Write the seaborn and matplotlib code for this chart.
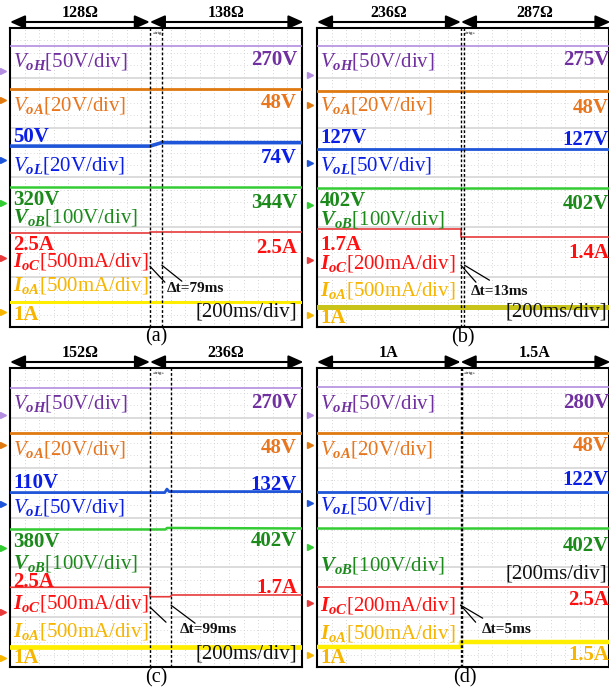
import numpy as np
import matplotlib
matplotlib.use('Agg')
import matplotlib.pyplot as plt
import seaborn as sns
from matplotlib.transforms import blended_transform_factory, offset_copy

W, H = 609, 694
T_END = 2000          # ms  (10 div x 200 ms/div)
N_DIV = 6             # vertical screen divisions

# ---------------- data (screen divisions vs. time in ms) ----------------
header_labels = [('128Ω', '138Ω'), ('236Ω', '287Ω'), ('152Ω', '236Ω'), ('1A', '1.5A')]
panel_tags = ['(a)', '(b)', '(c)', '(d)']
dt_labels = ['Δt=79ms', 'Δt=13ms', 'Δt=99ms', 'Δt=5ms']

a_cursor = [958, 1040]
b_cursor = [986, 1010]
c_cursor = [959, 1103]
d_cursor = [984, 996]

# panel (a)
a_VoH_t, a_VoH_v = [0, 2000], [5.64, 5.64]
a_VoA_t, a_VoA_v = [0, 2000], [4.78, 4.78]
a_VoL_t, a_VoL_v = [0, 958, 1040, 2000], [3.63, 3.63, 3.70, 3.70]
a_VoB_t, a_VoB_v = [0, 2000], [2.81, 2.81]
a_IoC_t, a_IoC_v = [0, 958, 958, 2000], [1.88, 1.88, 1.90, 1.90]
a_IoA_t, a_IoA_v = [0, 2000], [0.50, 0.50]
# panel (b)
b_VoH_t, b_VoH_v = [0, 2000], [5.64, 5.64]
b_VoA_t, b_VoA_v = [0, 2000], [4.74, 4.74]
b_VoL_t, b_VoL_v = [0, 2000], [3.57, 3.57]
b_VoB_t, b_VoB_v = [0, 2000], [2.78, 2.78]
b_IoC_t, b_IoC_v = [0, 986, 986, 2000], [1.96, 1.96, 1.80, 1.80]
b_IoA_t, b_IoA_v = [0, 2000], [0.40, 0.40]
# panel (c)
c_VoH_t, c_VoH_v = [0, 2000], [5.59, 5.59]
c_VoA_t, c_VoA_v = [0, 2000], [4.70, 4.70]
c_VoL_t, c_VoL_v = [0, 1060, 1075, 1090, 2000], [3.50, 3.50, 3.57, 3.52, 3.52]
c_VoB_t, c_VoB_v = [0, 1065, 1075, 2000], [2.76, 2.76, 2.79, 2.78]
c_IoC_t, c_IoC_v = [0, 959, 959, 1095, 1110, 2000], [1.60, 1.60, 1.41, 1.41, 1.445, 1.445]
c_IoA_t, c_IoA_v = [0, 2000], [0.40, 0.40]
# panel (d)
d_VoH_t, d_VoH_v = [0, 2000], [5.61, 5.61]
d_VoA_t, d_VoA_v = [0, 2000], [4.70, 4.70]
d_VoL_t, d_VoL_v = [0, 2000], [3.52, 3.52]
d_VoB_t, d_VoB_v = [0, 2000], [2.78, 2.78]
d_IoC_t, d_IoC_v = [0, 2000], [1.60, 1.60]
d_IoA_t, d_IoA_v = [0, 984, 984, 2000], [0.41, 0.41, 0.50, 0.50]

# channel ground markers (div)
a_marks = [5.14, 4.56, 3.35, 2.49, 1.38, 0.30]
b_marks = [5.06, 4.46, 3.29, 2.45, 1.34, 0.24]
c_marks = [5.06, 4.46, 3.27, 2.39, 1.10, 0.18]
d_marks = [5.06, 4.46, 3.29, 2.41, 1.28, 0.24]

# value labels
a_values = ['270V', '48V', '50V', '74V', '320V', '344V', '2.5A', '2.5A', '1A']
b_values = ['275V', '48V', '127V', '127V', '402V', '402V', '1.7A', '1.4A', '1A']
c_values = ['270V', '48V', '110V', '132V', '380V', '402V', '2.5A', '1.7A', '1A']
d_values = ['280V', '48V', '122V', '402V', '2.5A', '1.5A', '1A']

# ---------------- styling ----------------
sns.set_theme(style='white')
plt.rcParams['font.family'] = ['Liberation Serif', 'DejaVu Serif']
plt.rcParams['mathtext.fontset'] = 'custom'
plt.rcParams['mathtext.rm'] = 'Liberation Serif'
plt.rcParams['mathtext.it'] = 'Liberation Serif:italic'
plt.rcParams['mathtext.bf'] = 'Liberation Serif:bold'
try:
    plt.rcParams['mathtext.bfit'] = 'Liberation Serif:italic:bold'
except KeyError:
    pass

PUR_T, PUR_L = '#7030a0', '#b38de0'
ORA_T, ORA_L = '#e8761e', '#e07a10'
BLU_T, BLU_L = '#0a1ee6', '#1f55d8'
GRN_T, GRN_L = '#1b8a1b', '#33cc33'
RED_T, RED_L = '#ff1010', '#e83a3a'
YEL_T, YEL_L, OLV_L = '#f7b500', '#ffee00', '#c8c41a'
MARK_COLORS = [PUR_L, ORA_L, BLU_L, GRN_L, RED_L, YEL_T]

lab_VoH = r'$\mathit{V}_{\mathbfit{oH}}$[50V/div]'
lab_VoA = r'$\mathit{V}_{\mathbfit{oA}}$[20V/div]'
lab_VoL20 = r'$\mathit{V}_{\mathbfit{oL}}$[20V/div]'
lab_VoL50 = r'$\mathit{V}_{\mathbfit{oL}}$[50V/div]'
lab_VoB = r'$\mathbfit{V}_{\mathbfit{oB}}$[100V/div]'
lab_IoC500 = r'$\mathbfit{I}_{\mathbfit{oC}}$[500mA/div]'
lab_IoC200 = r'$\mathbfit{I}_{\mathbfit{oC}}$[200mA/div]'
lab_IoA = r'$\mathbfit{I}_{\mathbfit{oA}}$[500mA/div]'

FS = 15
fig = plt.figure(figsize=(W / 100, H / 100), dpi=100)


def ptext(px, py, s, **kw):
    kw.setdefault('va', 'baseline')
    kw.setdefault('fontsize', FS)
    return fig.text(px / W, 1 - py / H, s, **kw)


PW, PH = 292, 299


def make_panel(left, top, cursor, traces, marks, headers, iob_color, iob_lw,
               leaders):
    ax = fig.add_axes([left / W, 1 - (top + PH) / H, PW / W, PH / H])
    ax.set_xlim(0, T_END)
    ax.set_ylim(0, N_DIV)
    ax.set_xticks([]); ax.set_yticks([])
    for s in ax.spines.values():
        s.set_color('black'); s.set_linewidth(1.5)
    # graticule
    for x in np.arange(100, T_END, 100):
        ax.axvline(x, color='#c4c4c4', lw=0.6, ls=(0, (1, 3)), zorder=0)
    for y in np.arange(0.25, N_DIV, 0.25):
        if abs(y - round(y)) > 1e-6:
            ax.axhline(y, color='#cfcfcf', lw=0.6, ls=(0, (1, 3)), zorder=0)
    for y in range(1, N_DIV):
        ax.axhline(y, color='#d9d9d9', lw=1.3, zorder=0)
    # traces
    colors = [PUR_L, ORA_L, BLU_L, GRN_L, RED_L, iob_color]
    lws = [1.2, 2.0, traces[2][2], 1.8, 1.2, iob_lw]
    for (t, v, _), c, lw in zip(traces, colors, lws):
        sns.lineplot(x=t, y=v, ax=ax, color=c, lw=lw, estimator=None,
                     sort=False, legend=False, zorder=3)
    # cursors
    for c in cursor:
        ax.axvline(c, color='black', lw=1.0, ls=(0, (2, 1.5)), zorder=4)
    # ground markers
    bt = blended_transform_factory(ax.transAxes, ax.transData)
    mt = offset_copy(bt, fig=fig, x=-7, y=0, units='dots')
    for y, c in zip(marks, MARK_COLORS):
        ax.plot([0], [y], marker='>', ms=5, color=c, transform=mt,
                clip_on=False, lw=0)
    # header arrows
    ht = blended_transform_factory(ax.transData, ax.transAxes)
    yf = 1 + 6 / PH
    ap = dict(arrowstyle='<|-|>,head_length=0.9,head_width=0.4', color='black',
              lw=1.5, shrinkA=0, shrinkB=0, mutation_scale=10)
    ax.annotate('', xy=(0, yf), xytext=(cursor[0], yf), xycoords=ht,
                textcoords=ht, arrowprops=ap, annotation_clip=False)
    ax.annotate('', xy=(cursor[0], yf), xytext=(T_END * 1.005, yf), xycoords=ht,
                textcoords=ht, arrowprops=ap, annotation_clip=False)
    yl = 1 + 11 / PH
    ax.text(cursor[0] / 2, yl, headers[0], transform=ht, ha='center',
            va='baseline', fontsize=11.5, fontweight='bold', color='black')
    ax.text((cursor[0] + T_END) / 2, yl, headers[1], transform=ht, ha='center',
            va='baseline', fontsize=11.5, fontweight='bold', color='black')
    # trigger tag
    ax.text(cursor[0] + 60, 1 - 3 / PH, '«trig»', transform=ht, ha='center',
            va='top', fontsize=3.5, color='black')
    # leader lines for delta-t
    for (ci, yd, dx, dy) in leaders:
        ax.annotate('', xy=(cursor[ci], yd), xytext=(dx, dy),
                    textcoords='offset pixels',
                    arrowprops=dict(arrowstyle='-', lw=0.9, color='black',
                                    shrinkA=0, shrinkB=0),
                    annotation_clip=False)
    return ax


make_panel(10, 28, a_cursor,
           [(a_VoH_t, a_VoH_v, 0), (a_VoA_t, a_VoA_v, 0), (a_VoL_t, a_VoL_v, 2.6),
            (a_VoB_t, a_VoB_v, 0), (a_IoC_t, a_IoC_v, 0), (a_IoA_t, a_IoA_v, 0)],
           a_marks, header_labels[0], YEL_L, 2.2,
           [(0, 1.22, 15, -16), (1, 1.24, 20, -16)])
make_panel(317, 28, b_cursor,
           [(b_VoH_t, b_VoH_v, 0), (b_VoA_t, b_VoA_v, 0), (b_VoL_t, b_VoL_v, 2.0),
            (b_VoB_t, b_VoB_v, 0), (b_IoC_t, b_IoC_v, 0), (b_IoA_t, b_IoA_v, 0)],
           b_marks, header_labels[1], OLV_L, 3.6,
           [(0, 1.24, 15, -17), (1, 1.24, 25, -15)])
make_panel(10, 368, c_cursor,
           [(c_VoH_t, c_VoH_v, 0), (c_VoA_t, c_VoA_v, 0), (c_VoL_t, c_VoL_v, 2.0),
            (c_VoB_t, c_VoB_v, 0), (c_IoC_t, c_IoC_v, 0), (c_IoA_t, c_IoA_v, 0)],
           c_marks, header_labels[2], YEL_L, 3.4,
           [(0, 1.20, 16, -15), (1, 1.24, 24, -18)])
make_panel(317, 368, d_cursor,
           [(d_VoH_t, d_VoH_v, 0), (d_VoA_t, d_VoA_v, 0), (d_VoL_t, d_VoL_v, 2.0),
            (d_VoB_t, d_VoB_v, 0), (d_IoC_t, d_IoC_v, 0), (d_IoA_t, d_IoA_v, 0)],
           d_marks, header_labels[3], YEL_L, 3.2,
           [(0, 1.24, 15, -17), (0, 1.24, 22, -13)])

B = dict(fontweight='bold')
# ---------------- panel (a) texts ----------------
xl, xr = 13, 297
ptext(xl, 66, lab_VoH, color=PUR_T)
ptext(xr, 65, a_values[0], color=PUR_T, ha='right', **B)
ptext(xl, 110, lab_VoA, color=ORA_T)
ptext(xr, 108, a_values[1], color=ORA_T, ha='right', **B)
ptext(xl, 142, a_values[2], color=BLU_T, **B)
ptext(xr, 163, a_values[3], color=BLU_T, ha='right', **B)
ptext(xl, 171, lab_VoL20, color=BLU_T)
ptext(xl, 205, a_values[4], color=GRN_T, **B)
ptext(xr, 208, a_values[5], color=GRN_T, ha='right', **B)
ptext(xl, 223, lab_VoB, color=GRN_T)
ptext(xl, 250, a_values[6], color=RED_T, **B)
ptext(xr, 253, a_values[7], color=RED_T, ha='right', **B)
ptext(xl, 266, lab_IoC500, color=RED_T)
ptext(xl, 291, lab_IoA, color=YEL_T)
ptext(xl, 320, a_values[8], color=YEL_T, **B)
ptext(xr, 316, '[200ms/div]', color='#111111', ha='right')
ptext(167, 292, dt_labels[0], color='#111111', fontsize=11, **B)
ptext(156, 337, panel_tags[0], color='black', ha='center', va='center', fontsize=14.5)

# ---------------- panel (b) texts ----------------
xl, xr = 320, 609
ptext(xl, 66, lab_VoH, color=PUR_T)
ptext(xr, 65, b_values[0], color=PUR_T, ha='right', **B)
ptext(xl, 110, lab_VoA, color=ORA_T)
ptext(xr, 113, b_values[1], color=ORA_T, ha='right', **B)
ptext(xl, 143, b_values[2], color=BLU_T, **B)
ptext(xr, 145, b_values[3], color=BLU_T, ha='right', **B)
ptext(xl, 171, lab_VoL50, color=BLU_T)
ptext(xl, 206, b_values[4], color=GRN_T, **B)
ptext(xr, 209, b_values[5], color=GRN_T, ha='right', **B)
ptext(xl, 224, lab_VoB, color=GRN_T)
ptext(xl, 250, b_values[6], color=RED_T, **B)
ptext(xr, 258, b_values[7], color=RED_T, ha='right', **B)
ptext(xl, 268, lab_IoC200, color=RED_T)
ptext(xl, 296, lab_IoA, color=YEL_T)
ptext(xl, 323, b_values[8], color=YEL_T, **B)
ptext(607, 317, '[200ms/div]', color='#111111', ha='right')
ptext(471, 295, dt_labels[1], color='#111111', fontsize=11, **B)
ptext(463, 338, panel_tags[1], color='black', ha='center', va='center', fontsize=14.5)

# ---------------- panel (c) texts ----------------
xl, xr = 13, 297
ptext(xl, 409, lab_VoH, color=PUR_T)
ptext(xr, 408, c_values[0], color=PUR_T, ha='right', **B)
ptext(xl, 455, lab_VoA, color=ORA_T)
ptext(xr, 453, c_values[1], color=ORA_T, ha='right', **B)
ptext(xl, 488, c_values[2], color=BLU_T, **B)
ptext(xr, 490, c_values[3], color=BLU_T, ha='right', **B)
ptext(xl, 513, lab_VoL50, color=BLU_T)
ptext(xl, 547, c_values[4], color=GRN_T, **B)
ptext(xr, 546, c_values[5], color=GRN_T, ha='right', **B)
ptext(xl, 568, lab_VoB, color=GRN_T)
ptext(xl, 587, c_values[6], color=RED_T, **B)
ptext(xr, 593, c_values[7], color=RED_T, ha='right', **B)
ptext(xl, 608, lab_IoC500, color=RED_T)
ptext(xl, 636, lab_IoA, color=YEL_T)
ptext(xl, 663, c_values[8], color=YEL_T, **B)
ptext(xr, 659, '[200ms/div]', color='#111111', ha='right')
ptext(180, 633, dt_labels[2], color='#111111', fontsize=11, **B)
ptext(156, 678, panel_tags[2], color='black', ha='center', va='center', fontsize=14.5)

# ---------------- panel (d) texts ----------------
xl, xr = 320, 609
ptext(xl, 409, lab_VoH, color=PUR_T)
ptext(xr, 408, d_values[0], color=PUR_T, ha='right', **B)
ptext(xl, 455, lab_VoA, color=ORA_T)
ptext(xr, 451, d_values[1], color=ORA_T, ha='right', **B)
ptext(xr, 485, d_values[2], color=BLU_T, ha='right', **B)
ptext(xl, 511, lab_VoL50, color=BLU_T)
ptext(xr, 551, d_values[3], color=GRN_T, ha='right', **B)
ptext(xl, 570, lab_VoB, color=GRN_T)
ptext(607, 578, '[200ms/div]', color='#111111', ha='right')
ptext(xr, 605, d_values[4], color=RED_T, ha='right', **B)
ptext(xl, 610, lab_IoC200, color=RED_T)
ptext(xl, 638, lab_IoA, color=YEL_T)
ptext(xr, 660, d_values[5], color=YEL_T, ha='right', **B)
ptext(xl, 663, d_values[6], color=YEL_T, **B)
ptext(482, 633, dt_labels[3], color='#111111', fontsize=11, **B)
ptext(465, 678, panel_tags[3], color='black', ha='center', va='center', fontsize=14.5)

fig.savefig('out.png', dpi=100, facecolor='white')
